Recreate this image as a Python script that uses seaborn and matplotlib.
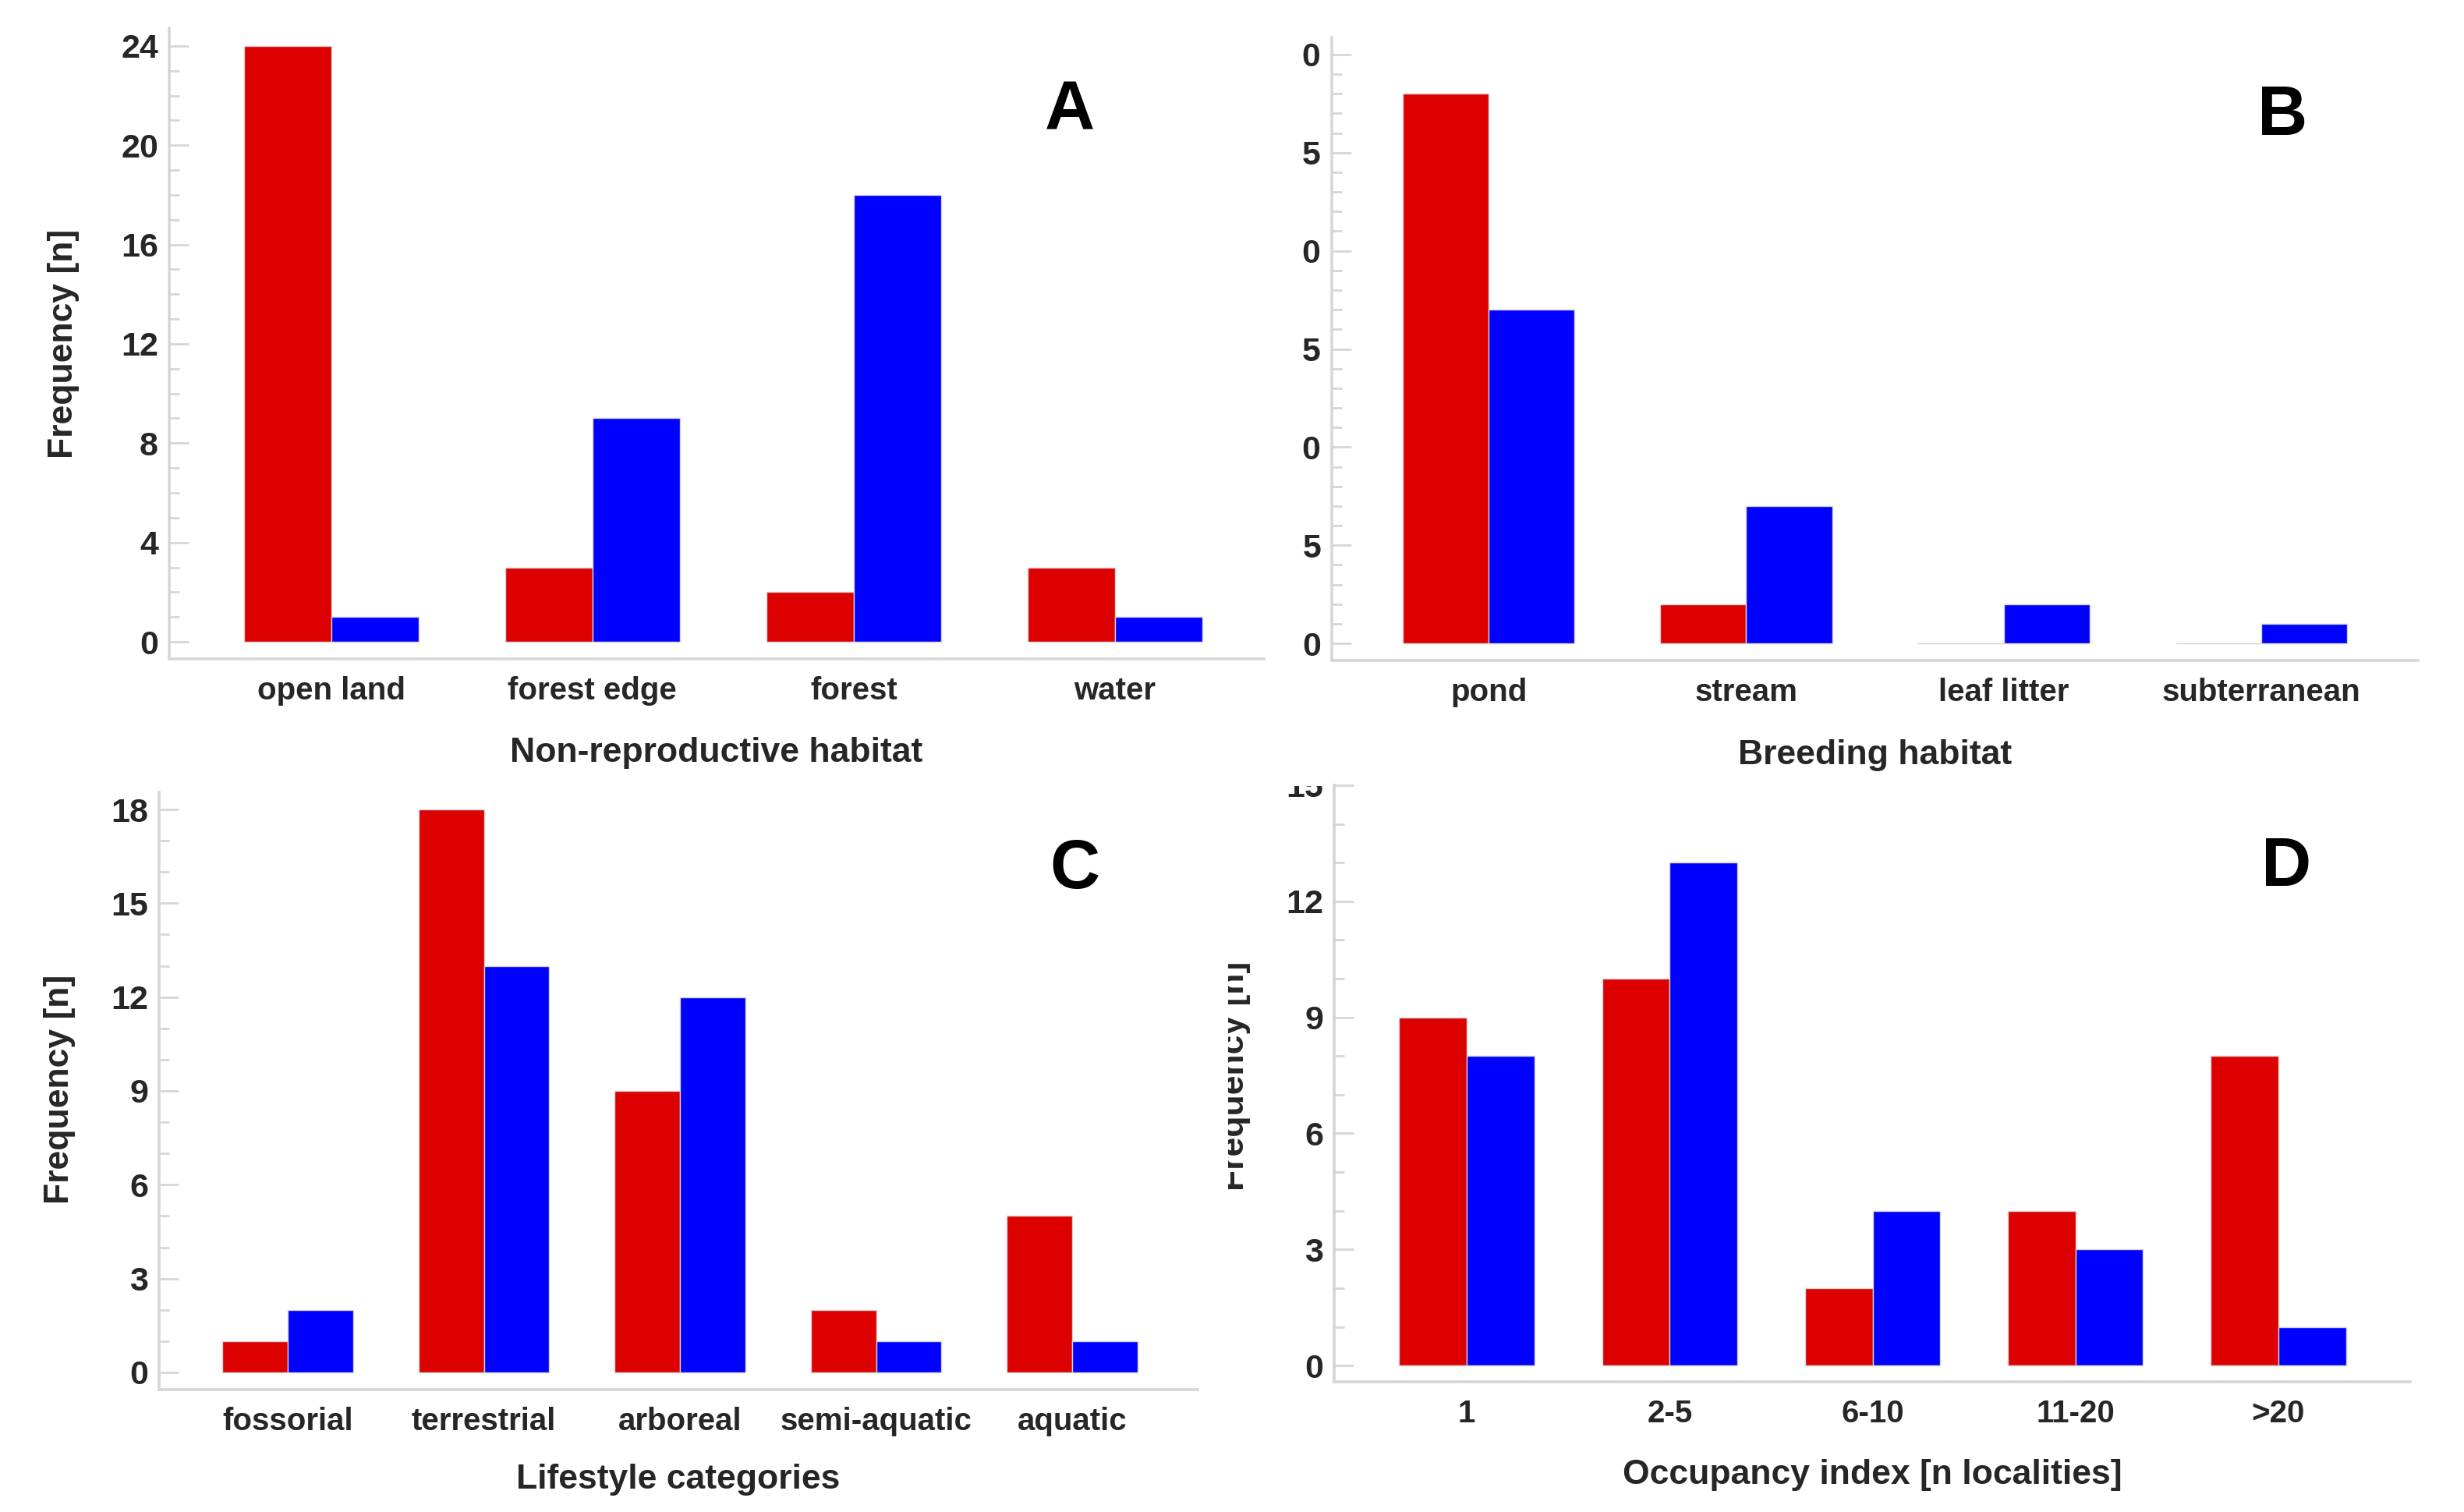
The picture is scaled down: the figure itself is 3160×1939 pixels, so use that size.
import numpy as np
import pandas as pd
import seaborn as sns
import matplotlib
matplotlib.use("Agg")
import matplotlib.pyplot as plt
from matplotlib.ticker import MultipleLocator
from matplotlib.transforms import Bbox

# data
habitat_cats = ["open land", "forest edge", "forest", "water"]
habitat_red = [24, 3, 2, 3]
habitat_blue = [1, 9, 18, 1]

breeding_cats = ["pond", "stream", "leaf litter", "subterranean"]
breeding_red = [28, 2, 0, 0]
breeding_blue = [17, 7, 2, 1]

lifestyle_cats = ["fossorial", "terrestrial", "arboreal", "semi-aquatic", "aquatic"]
lifestyle_red = [1, 18, 9, 2, 5]
lifestyle_blue = [2, 13, 12, 1, 1]

occupancy_cats = ["1", "2-5", "6-10", "11-20", ">20"]
occupancy_red = [9, 10, 2, 4, 8]
occupancy_blue = [8, 13, 4, 3, 1]

groups = ["group 1", "group 2"]
RED = "#dd0000"
BLUE = "#0000ff"
GREY = "#d6d6d6"

W, H = 3160, 1939
DPI = 200

sns.set_theme(style="white")
plt.rcParams["font.family"] = ["Liberation Sans", "DejaVu Sans"]
plt.rcParams["font.weight"] = "bold"

fig = plt.figure(figsize=(W / DPI, H / DPI), dpi=DPI)


def make_df(cats, red, blue):
    return pd.DataFrame({
        "cat": cats * 2,
        "n": red + blue,
        "grp": [groups[0]] * len(cats) + [groups[1]] * len(cats),
    })


def px_clip(x0, y0, x1, y1):
    # figure pixel box (top-left origin) -> display bbox
    return Bbox.from_extents(x0, H - y1, x1, H - y0)


def to_axes(ax, px, py):
    return ax.transAxes.inverted().transform((px, H - py))


def panel(rect, cats, red, blue, ylim, xlim, ystep, letter, letter_xy,
          xlabel, xlab_y, xtick_pad, ylab_xy=None):
    l, t, r, b = rect
    ax = fig.add_axes([l / W, 1 - b / H, (r - l) / W, (b - t) / H])
    df = make_df(cats, red, blue)
    sns.barplot(data=df, x="cat", y="n", hue="grp", palette=[RED, BLUE],
                width=0.667, gap=0, legend=False, ax=ax,
                edgecolor="#d4d4d4", linewidth=0.5, saturation=1)
    ax.set_ylim(*ylim)
    ax.set_xlim(*xlim)
    ax.set_yticks(np.arange(0, ylim[1] + 0.01, ystep))
    ax.yaxis.set_minor_locator(MultipleLocator(1))
    for s in ["top", "right"]:
        ax.spines[s].set_visible(False)
    for s in ["left", "bottom"]:
        ax.spines[s].set_color(GREY)
        ax.spines[s].set_linewidth(1.3)
    ax.tick_params(axis="y", which="major", direction="in", length=9,
                   width=1.0, color=GREY, labelsize=15.5, pad=5, left=True)
    ax.tick_params(axis="y", which="minor", direction="in", length=4.5,
                   width=1.0, color=GREY, left=True)
    ax.tick_params(axis="x", length=0, labelsize=14.5, pad=xtick_pad)
    for lbl in ax.get_xticklabels() + ax.get_yticklabels():
        lbl.set_fontweight("bold")
    ax.set_ylabel("")
    ax.set_xlabel(xlabel, fontsize=16, fontweight="bold")
    xl = to_axes(ax, (l + r) / 2, xlab_y)
    ax.xaxis.set_label_coords(xl[0], xl[1])
    ax.xaxis.label.set_va("center")
    if ylab_xy is not None:
        ax.set_ylabel("Frequency [n]", fontsize=16, fontweight="bold")
        yl = to_axes(ax, *ylab_xy)
        ax.yaxis.set_label_coords(yl[0], yl[1])
        ax.yaxis.label.set_va("center")
    lx, ly = to_axes(ax, *letter_xy)
    ax.text(lx, ly, letter, transform=ax.transAxes, fontsize=32,
            fontweight="bold", ha="center", va="center", color="black")
    return ax


ax_a = panel((217, 36, 1621, 845), habitat_cats, habitat_red, habitat_blue,
             (-0.69, 24.72), (-0.62, 3.57), 4, "A", (1372, 144),
             "Non-reproductive habitat", 966, 8, ylab_xy=(82, 441))

ax_b = panel((1708, 48, 3101, 847), breeding_cats, breeding_red, breeding_blue,
             (-0.87, 30.87), (-0.61, 3.61), 5, "B", (2927, 150),
             "Breeding habitat", 969, 8)

ax_c = panel((204, 1016, 1536, 1782), lifestyle_cats, lifestyle_red, lifestyle_blue,
             (-0.55, 18.55), (-0.656, 4.64), 3, "C", (1378, 1116),
             "Lifestyle categories", 1897, 8, ylab_xy=(77, 1397))

ax_d = panel((1711, 1007, 3091, 1772), occupancy_cats, occupancy_red, occupancy_blue,
             (-0.42, 15.0), (-0.654, 4.65), 3, "D", (2932, 1113),
             "Occupancy index [n localities]", 1891, 8, ylab_xy=(1583, 1380))

# panel B tick labels are cut on the left in the original figure
clip_b = px_clip(1671, 0, 1760, 900)
for lbl in ax_b.get_yticklabels():
    lbl.set_clip_box(clip_b)
    lbl.set_clip_on(True)

# panel D: y label cut on the left, top tick label cut at the top
clip_d_lab = px_clip(1575, 1000, 1700, 1800)
ax_d.yaxis.label.set_clip_box(clip_d_lab)
ax_d.yaxis.label.set_clip_on(True)
clip_d_ticks = px_clip(1600, 1008, 1760, 1800)
for lbl in ax_d.get_yticklabels():
    lbl.set_clip_box(clip_d_ticks)
    lbl.set_clip_on(True)

fig.savefig("out.png", dpi=DPI, facecolor="white")
